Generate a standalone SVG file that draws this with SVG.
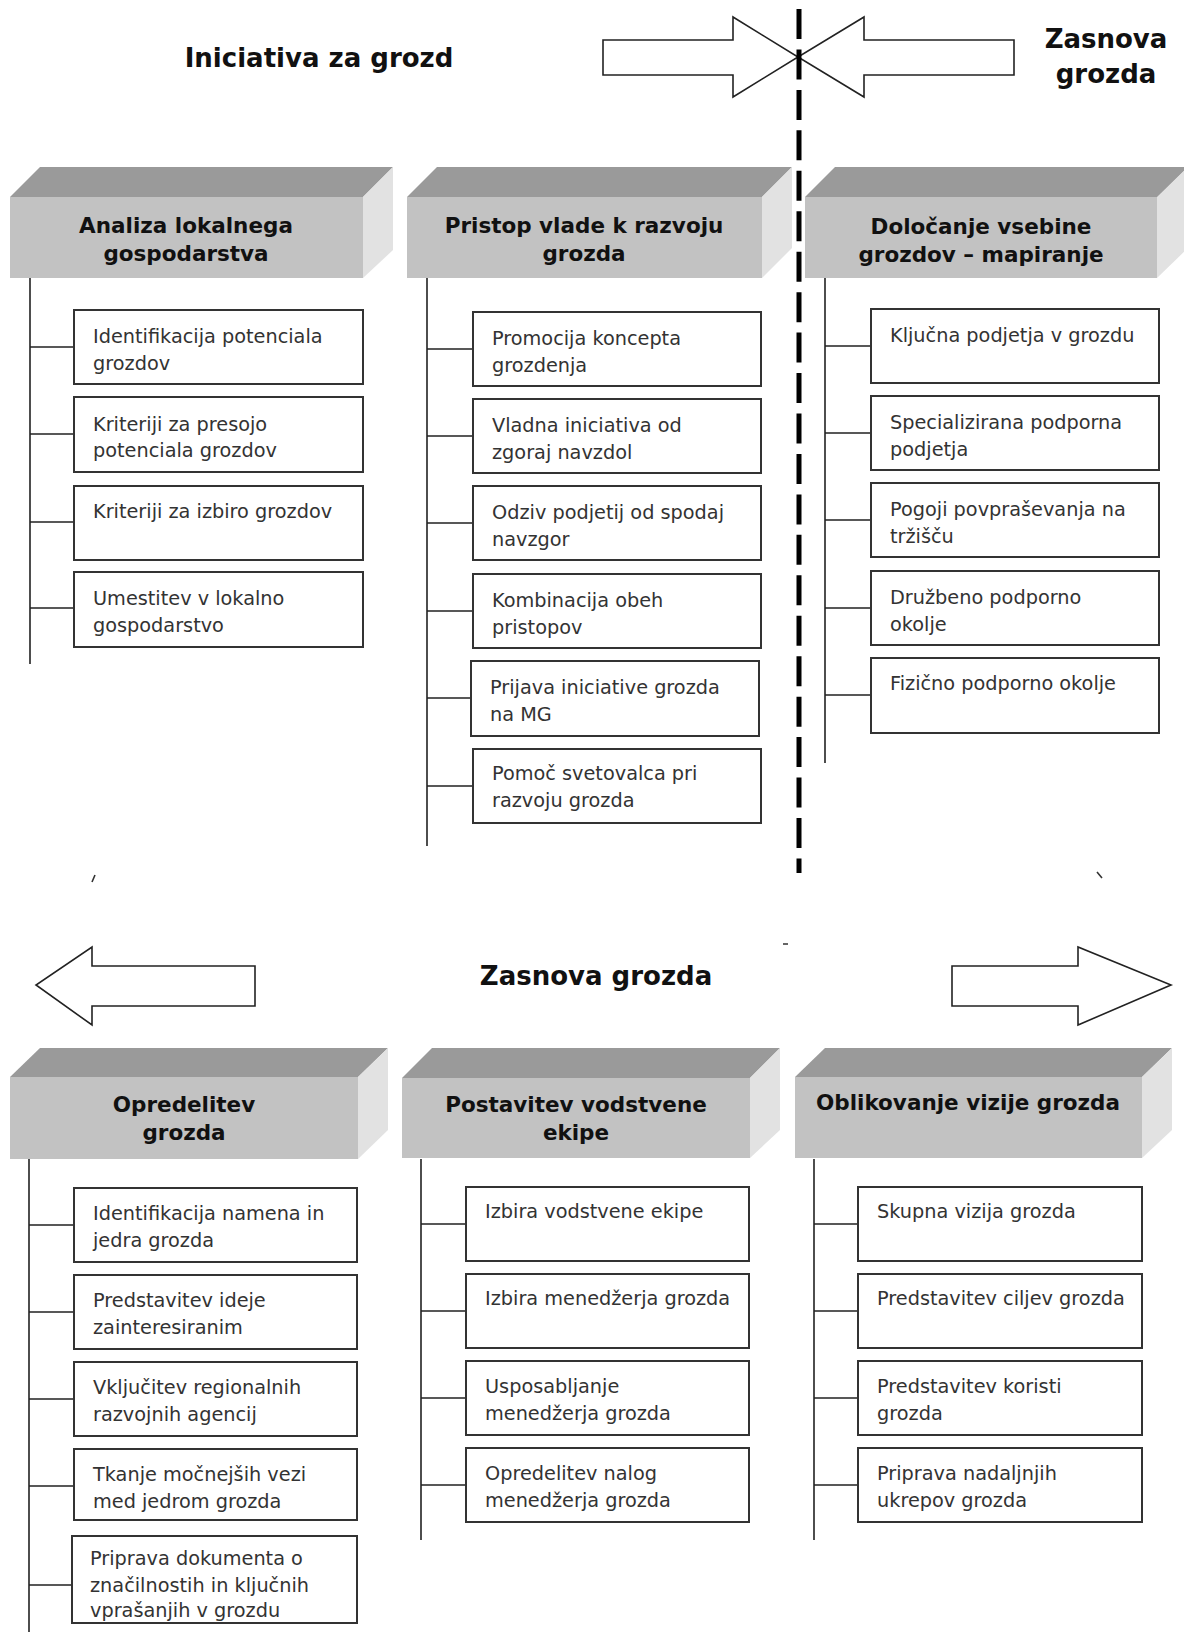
<svg xmlns="http://www.w3.org/2000/svg" width="1184" height="1632" viewBox="0 0 1184 1632">
  <style>
    .title { font-family: "DejaVu Sans", Verdana, sans-serif; font-weight: bold; font-size: 26px; fill: #111; text-anchor: middle; }
    .htext { font-family: "DejaVu Sans", Verdana, sans-serif; font-weight: bold; font-size: 21.5px; fill: #111; text-anchor: middle; }
    .btext { font-family: "DejaVu Sans", Verdana, sans-serif; font-size: 19.3px; fill: #333; }
    .top { fill: #9a9a9a; }
    .front { fill: #c2c2c2; }
    .side { fill: #e2e2e2; }
    .box { fill: #fff; stroke: #333; stroke-width: 2; }
    .wire { stroke: #222; stroke-width: 1.6; fill: none; }
    .arrow { fill: #fff; stroke: #222; stroke-width: 1.6; stroke-linejoin: miter; }
    .divider { stroke: #000; stroke-width: 5; stroke-dasharray: 30 10.45; fill: none; }
    .speck { stroke: #333; stroke-width: 1.6; fill: none; }
  </style>

  <rect width="1184" height="1632" fill="#fff"/>

  <!-- phase titles -->
  <g id="titles">
    <text class="title" x="319" y="67">Iniciativa za grozd</text>
    <text class="title" x="1106" y="48">Zasnova</text>
    <text class="title" x="1106" y="83">grozda</text>
    <text class="title" x="596" y="985">Zasnova grozda</text>
  </g>

  <!-- block arrows and phase divider -->
  <g id="phase-arrows">
    <polygon class="arrow" points="603,40 733,40 733,17 798,57 733,97 733,75 603,75"/>
    <polygon class="arrow" points="1014,40 864,40 864,17 798,57 864,97 864,75 1014,75"/>
    <polygon class="arrow" points="255,966 92,966 92,947 36,985 92,1025 92,1006 255,1006"/>
    <polygon class="arrow" points="952,966 1078,966 1078,947 1171,985 1078,1025 1078,1006 952,1006"/>
    <line class="divider" x1="799" y1="9" x2="799" y2="873"/>
    <path class="speck" d="M92 882 L95 875 M1097 872 L1102 878 M783 944 L788 944"/>
  </g>

  <!-- tree connectors -->
  <g id="connectors">
    <!-- Analiza lokalnega gospodarstva -->
    <path class="wire" d="M30 278 V664 M30 347 H74 M30 434 H74 M30 522 H74 M30 608 H74"/>
    <!-- Pristop vlade k razvoju grozda -->
    <path class="wire" d="M427 278 V846 M427 349 H473 M427 436 H473 M427 523 H473 M427 611 H473 M427 698 H471 M427 786 H473"/>
    <!-- Določanje vsebine grozdov -->
    <path class="wire" d="M825 278 V763 M825 346 H871 M825 433 H871 M825 520 H871 M825 608 H871 M825 695 H871"/>
    <!-- Opredelitev grozda -->
    <path class="wire" d="M29 1159 V1632 M29 1225 H74 M29 1312 H74 M29 1399 H74 M29 1486 H74 M29 1585 H72"/>
    <!-- Postavitev vodstvene ekipe -->
    <path class="wire" d="M421 1159 V1540 M421 1224 H466 M421 1311 H466 M421 1398 H466 M421 1485 H466"/>
    <!-- Oblikovanje vizije grozda -->
    <path class="wire" d="M814 1159 V1540 M814 1224 H858 M814 1311 H858 M814 1398 H858 M814 1485 H858"/>
  </g>

  <!-- column: Analiza lokalnega gospodarstva -->
  <g id="analiza">
    <polygon class="top" points="10,197 40,167 393,167 363,197"/>
    <polygon class="side" points="363,197 393,167 393,250 363,278"/>
    <rect class="front" x="10" y="197" width="353" height="81"/>
    <text class="htext" x="186" y="233">Analiza lokalnega</text>
    <text class="htext" x="186" y="261">gospodarstva</text>
  </g>
  <g id="analiza-1"><rect class="box" x="74" y="310" width="289" height="74"/><text class="btext" x="93" y="343">Identifikacija potenciala</text><text class="btext" x="93" y="370">grozdov</text></g>
  <g id="analiza-2"><rect class="box" x="74" y="397" width="289" height="75"/><text class="btext" x="93" y="431">Kriteriji za presojo</text><text class="btext" x="93" y="457">potenciala grozdov</text></g>
  <g id="analiza-3"><rect class="box" x="74" y="486" width="289" height="74"/><text class="btext" x="93" y="518">Kriteriji za izbiro grozdov</text></g>
  <g id="analiza-4"><rect class="box" x="74" y="572" width="289" height="75"/><text class="btext" x="93" y="605">Umestitev v lokalno</text><text class="btext" x="93" y="632">gospodarstvo</text></g>

  <!-- column: Pristop vlade k razvoju grozda -->
  <g id="pristop">
    <polygon class="top" points="407,197 437,167 792,167 762,197"/>
    <polygon class="side" points="762,197 792,167 792,248 762,278"/>
    <rect class="front" x="407" y="197" width="355" height="81"/>
    <text class="htext" x="584" y="233">Pristop vlade k razvoju</text>
    <text class="htext" x="584" y="261">grozda</text>
  </g>
  <g id="pristop-1"><rect class="box" x="473" y="312" width="288" height="74"/><text class="btext" x="492" y="345">Promocija koncepta</text><text class="btext" x="492" y="372">grozdenja</text></g>
  <g id="pristop-2"><rect class="box" x="473" y="399" width="288" height="74"/><text class="btext" x="492" y="432">Vladna iniciativa od</text><text class="btext" x="492" y="459">zgoraj navzdol</text></g>
  <g id="pristop-3"><rect class="box" x="473" y="486" width="288" height="74"/><text class="btext" x="492" y="519">Odziv podjetij od spodaj</text><text class="btext" x="492" y="546">navzgor</text></g>
  <g id="pristop-4"><rect class="box" x="473" y="574" width="288" height="74"/><text class="btext" x="492" y="607">Kombinacija obeh</text><text class="btext" x="492" y="634">pristopov</text></g>
  <g id="pristop-5"><rect class="box" x="471" y="661" width="288" height="75"/><text class="btext" x="490" y="694">Prijava iniciative grozda</text><text class="btext" x="490" y="721">na MG</text></g>
  <g id="pristop-6"><rect class="box" x="473" y="749" width="288" height="74"/><text class="btext" x="492" y="780">Pomoč svetovalca pri</text><text class="btext" x="492" y="807">razvoju grozda</text></g>

  <!-- column: Določanje vsebine grozdov - mapiranje -->
  <g id="dolocanje">
    <polygon class="top" points="805,197 835,167 1188,167 1158,197"/>
    <polygon class="side" points="1157,197 1188,167 1188,248 1157,278"/>
    <rect class="front" x="805" y="197" width="352" height="81"/>
    <text class="htext" x="981" y="234">Določanje vsebine</text>
    <text class="htext" x="981" y="262">grozdov – mapiranje</text>
  </g>
  <g id="dolocanje-1"><rect class="box" x="871" y="309" width="288" height="74"/><text class="btext" x="890" y="342">Ključna podjetja v grozdu</text></g>
  <g id="dolocanje-2"><rect class="box" x="871" y="396" width="288" height="74"/><text class="btext" x="890" y="429">Specializirana podporna</text><text class="btext" x="890" y="456">podjetja</text></g>
  <g id="dolocanje-3"><rect class="box" x="871" y="483" width="288" height="74"/><text class="btext" x="890" y="516">Pogoji povpraševanja na</text><text class="btext" x="890" y="543">tržišču</text></g>
  <g id="dolocanje-4"><rect class="box" x="871" y="571" width="288" height="74"/><text class="btext" x="890" y="604">Družbeno podporno</text><text class="btext" x="890" y="631">okolje</text></g>
  <g id="dolocanje-5"><rect class="box" x="871" y="658" width="288" height="75"/><text class="btext" x="890" y="690">Fizično podporno okolje</text></g>

  <!-- column: Opredelitev grozda -->
  <g id="opredelitev">
    <polygon class="top" points="10,1077 40,1048 388,1048 358,1077"/>
    <polygon class="side" points="358,1077 388,1048 388,1130 358,1159"/>
    <rect class="front" x="10" y="1077" width="348" height="82"/>
    <text class="htext" x="184" y="1112">Opredelitev</text>
    <text class="htext" x="184" y="1140">grozda</text>
  </g>
  <g id="opredelitev-1"><rect class="box" x="74" y="1188" width="283" height="74"/><text class="btext" x="93" y="1220">Identifikacija namena in</text><text class="btext" x="93" y="1247">jedra grozda</text></g>
  <g id="opredelitev-2"><rect class="box" x="74" y="1275" width="283" height="74"/><text class="btext" x="93" y="1307">Predstavitev ideje</text><text class="btext" x="93" y="1334">zainteresiranim</text></g>
  <g id="opredelitev-3"><rect class="box" x="74" y="1362" width="283" height="74"/><text class="btext" x="93" y="1394">Vključitev regionalnih</text><text class="btext" x="93" y="1421">razvojnih agencij</text></g>
  <g id="opredelitev-4"><rect class="box" x="74" y="1449" width="283" height="71"/><text class="btext" x="93" y="1481">Tkanje močnejših vezi</text><text class="btext" x="93" y="1508">med jedrom grozda</text></g>
  <g id="opredelitev-5"><rect class="box" x="72" y="1536" width="285" height="87"/><text class="btext" x="90" y="1565">Priprava dokumenta o</text><text class="btext" x="90" y="1592">značilnostih in ključnih</text><text class="btext" x="90" y="1617">vprašanjih v grozdu</text></g>

  <!-- column: Postavitev vodstvene ekipe -->
  <g id="postavitev">
    <polygon class="top" points="402,1078 432,1048 780,1048 750,1078"/>
    <polygon class="side" points="750,1078 780,1048 780,1130 750,1158"/>
    <rect class="front" x="402" y="1078" width="348" height="80"/>
    <text class="htext" x="576" y="1112">Postavitev vodstvene</text>
    <text class="htext" x="576" y="1140">ekipe</text>
  </g>
  <g id="postavitev-1"><rect class="box" x="466" y="1187" width="283" height="74"/><text class="btext" x="485" y="1218">Izbira vodstvene ekipe</text></g>
  <g id="postavitev-2"><rect class="box" x="466" y="1274" width="283" height="74"/><text class="btext" x="485" y="1305">Izbira menedžerja grozda</text></g>
  <g id="postavitev-3"><rect class="box" x="466" y="1361" width="283" height="74"/><text class="btext" x="485" y="1393">Usposabljanje</text><text class="btext" x="485" y="1420">menedžerja grozda</text></g>
  <g id="postavitev-4"><rect class="box" x="466" y="1448" width="283" height="74"/><text class="btext" x="485" y="1480">Opredelitev nalog</text><text class="btext" x="485" y="1507">menedžerja grozda</text></g>

  <!-- column: Oblikovanje vizije grozda -->
  <g id="oblikovanje">
    <polygon class="top" points="795,1077 825,1048 1172,1048 1142,1077"/>
    <polygon class="side" points="1142,1077 1172,1048 1172,1130 1142,1158"/>
    <rect class="front" x="795" y="1077" width="347" height="81"/>
    <text class="htext" x="968" y="1110">Oblikovanje vizije grozda</text>
  </g>
  <g id="oblikovanje-1"><rect class="box" x="858" y="1187" width="284" height="74"/><text class="btext" x="877" y="1218">Skupna vizija grozda</text></g>
  <g id="oblikovanje-2"><rect class="box" x="858" y="1274" width="284" height="74"/><text class="btext" x="877" y="1305">Predstavitev ciljev grozda</text></g>
  <g id="oblikovanje-3"><rect class="box" x="858" y="1361" width="284" height="74"/><text class="btext" x="877" y="1393">Predstavitev koristi</text><text class="btext" x="877" y="1420">grozda</text></g>
  <g id="oblikovanje-4"><rect class="box" x="858" y="1448" width="284" height="74"/><text class="btext" x="877" y="1480">Priprava nadaljnjih</text><text class="btext" x="877" y="1507">ukrepov grozda</text></g>
</svg>
